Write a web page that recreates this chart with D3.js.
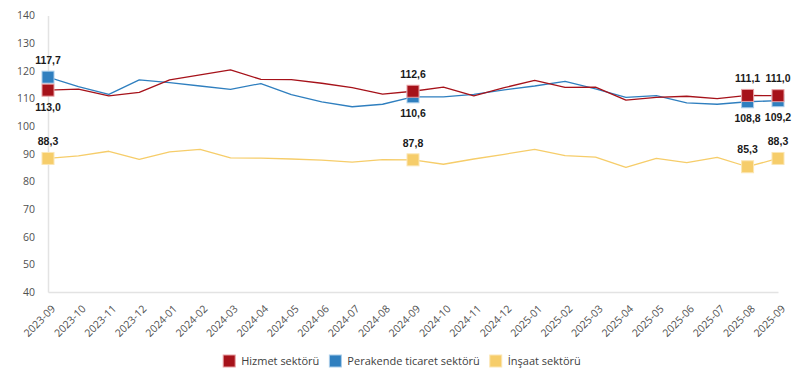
<!DOCTYPE html>
<html>
<head>
<meta charset="utf-8">
<script src="https://cdn.jsdelivr.net/npm/d3@7"></script>
<style>
  html, body { margin: 0; padding: 0; background: #fff; }
  svg { display: block; }
</style>
</head>
<body>
<div id="chart"></div>
<script>
const months = ["2023-09","2023-10","2023-11","2023-12","2024-01","2024-02","2024-03","2024-04","2024-05","2024-06","2024-07","2024-08","2024-09","2024-10","2024-11","2024-12","2025-01","2025-02","2025-03","2025-04","2025-05","2025-06","2025-07","2025-08","2025-09"];
const hizmet = [113.0,113.4,110.9,112.2,116.7,118.5,120.3,116.9,116.8,115.5,113.9,111.6,112.6,114.1,110.9,113.9,116.5,114.0,114.1,109.4,110.4,110.8,109.9,111.1,111.0];
const perakende = [117.7,114.3,111.5,116.7,115.7,114.5,113.3,115.4,111.4,108.8,107.0,107.9,110.6,110.6,111.5,113.1,114.5,116.2,113.5,110.4,111.0,108.4,107.9,108.8,109.2];
const insaat = [88.3,89.2,90.9,88.0,90.7,91.6,88.5,88.4,88.1,87.7,87.0,87.9,87.8,86.2,88.1,89.8,91.6,89.3,88.8,85.1,88.3,86.8,88.7,85.3,88.3];
const seriesNames = ["Hizmet sektörü","Perakende ticaret sektörü","İnşaat sektörü"];
const yTicks = [40,50,60,70,80,90,100,110,120,130,140];
const markedMonths = ["2023-09","2024-09","2025-08","2025-09"];

const W = 806, H = 381;
const colors = ["#A6121A", "#2F7FBF", "#F6CD6A"];
const strokes = ["#E8A0A3", "#A9CDEA", "#FBE6B4"];

const series = [
  {name: seriesNames[2], values: insaat, color: colors[2], stroke: strokes[2], pos: () => "above"},
  {name: seriesNames[1], values: perakende, color: colors[1], stroke: strokes[1], pos: (i) => i === 0 ? "above" : "below"},
  {name: seriesNames[0], values: hizmet, color: colors[0], stroke: strokes[0], pos: (i) => i === 0 ? "below" : "above"}
];

const svg = d3.select("#chart").append("svg").attr("width", W).attr("height", H);

const x = d3.scalePoint().domain(months).range([48, 778]);
const y = d3.scaleLinear().domain([40, 140]).range([292, 15.5]);

// Y axis
const yAxis = svg.append("g").attr("transform", "translate(48,0)")
  .call(d3.axisLeft(y).tickValues(yTicks).tickSize(0).tickSizeOuter(0).tickPadding(13).tickFormat(d3.format("d")));
yAxis.select(".domain").attr("stroke", "#e3e3e3").attr("stroke-width", 1.5);
yAxis.selectAll("text").attr("font-family", "'Open Sans', 'Noto Sans', sans-serif").attr("font-size", "10.5px").attr("fill", "#505050");

// X axis
const xAxis = svg.append("g").attr("transform", "translate(0,292)")
  .call(d3.axisBottom(x).tickSize(0).tickSizeOuter(0));
xAxis.select(".domain").attr("stroke", "#e3e3e3").attr("stroke-width", 1.5);
xAxis.selectAll("text")
  .attr("font-family", "'Open Sans', 'Noto Sans', sans-serif").attr("font-size", "10.5px").attr("fill", "#505050")
  .attr("text-anchor", "end")
  .attr("dy", "0.35em")
  .attr("transform", "translate(5,15) rotate(-45)")
  .attr("y", 0).attr("x", 0);

// Lines
const line = d3.line().x((d, i) => x(months[i])).y(d => y(d));
series.forEach(s => {
  svg.append("path").datum(s.values).attr("d", line)
    .attr("fill", "none").attr("stroke", s.color).attr("stroke-width", 1.3).attr("stroke-linejoin", "round");
});

// Markers & labels
const fmt = v => d3.format(".1f")(v).replace(".", ",");
const ms = 12;
series.forEach(s => {
  markedMonths.forEach(m => {
    const i = months.indexOf(m);
    const cx = x(m), cy = y(s.values[i]);
    svg.append("rect").attr("x", cx - ms/2).attr("y", cy - ms/2).attr("width", ms).attr("height", ms)
      .attr("fill", s.color).attr("stroke", s.stroke).attr("stroke-width", 1);
  });
});
series.forEach(s => {
  markedMonths.forEach(m => {
    const i = months.indexOf(m);
    const cx = x(m), cy = y(s.values[i]);
    const off = s.pos(i) === "above" ? -17 : 17;
    svg.append("text").attr("x", cx).attr("y", cy + off).attr("dy", "0.35em")
      .attr("text-anchor", "middle")
      .attr("font-family", "'Liberation Sans', Arial, sans-serif").attr("font-weight", "bold")
      .attr("font-size", "10.5px").attr("fill", "#1a1a1a")
      .text(fmt(s.values[i]));
  });
});

// Legend
const legendItems = [0,1,2].map(k => ({name: seriesNames[k], color: colors[k], stroke: strokes[k]}));
const lg = svg.append("g");
let cur = 0;
const sq = 12, gapText = 6, gapItem = 10, ly = 361;
legendItems.forEach(it => {
  const g = lg.append("g").attr("transform", `translate(${cur},0)`);
  g.append("rect").attr("x", 0).attr("y", ly - sq/2).attr("width", sq).attr("height", sq)
    .attr("fill", it.color).attr("stroke", it.stroke).attr("stroke-width", 1);
  const t = g.append("text").attr("x", sq + gapText).attr("y", ly).attr("dy", "0.35em")
    .attr("font-family", "'Open Sans', 'Noto Sans', sans-serif").attr("font-size", "11px").attr("fill", "#404040")
    .text(it.name);
  cur += sq + gapText + t.node().getComputedTextLength() + gapItem;
});
const totalW = cur - gapItem;
lg.attr("transform", `translate(${402 - totalW/2},0)`);
</script>
</body>
</html>
